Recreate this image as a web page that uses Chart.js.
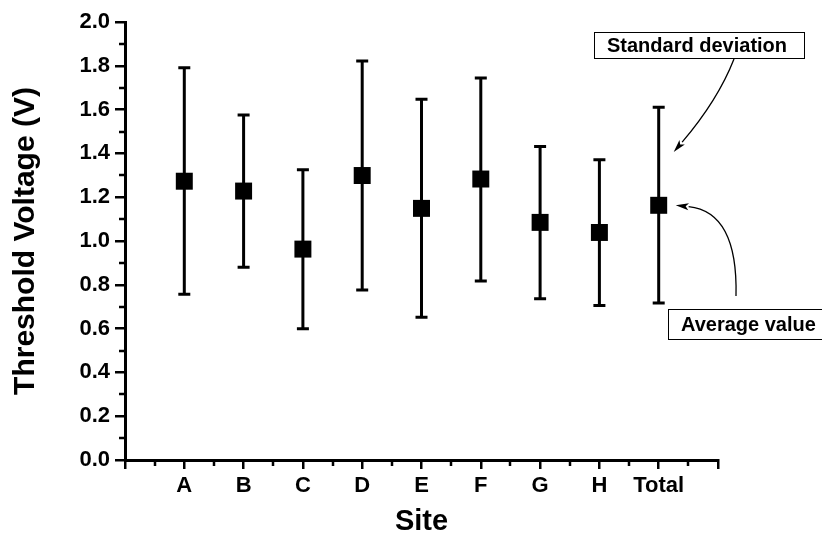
<!DOCTYPE html>
<html lang="en">
  <head>
    <meta charset="UTF-8" />
    <title>Threshold Voltage by Site</title>
    <script src="https://cdn.jsdelivr.net/npm/chart.js"></script>
    <style>
      html, body { margin: 0; padding: 0; background: #fff; }
      #wrap { width: 822px; height: 541px; }
    </style>
  </head>
  <body>
    <div id="wrap"><canvas id="vthChart" width="822" height="541"></canvas></div>

    <script>
      const sites = ["A", "B", "C", "D", "E", "F", "G", "H", "Total"];
      const average = [1.273, 1.228, 0.963, 1.299, 1.149, 1.283, 1.085, 1.039, 1.163];
      const upper = [1.791, 1.575, 1.325, 1.822, 1.647, 1.744, 1.431, 1.371, 1.611];
      const lower = [0.757, 0.880, 0.599, 0.776, 0.652, 0.817, 0.736, 0.705, 0.717];
      const xLabels = [""].concat(sites, [""]);
      const yTicks = [0.0, 0.2, 0.4, 0.6, 0.8, 1.0, 1.2, 1.4, 1.6, 1.8, 2.0];

      const FONT = "'Liberation Sans', Arial, sans-serif";

      // error bars under the squares
      const errorBars = {
        id: "errorBars",
        beforeDatasetsDraw(chart) {
          const ctx = chart.ctx;
          const xs = chart.scales.x, ys = chart.scales.y;
          ctx.save();
          ctx.strokeStyle = "#000";
          ctx.lineWidth = 3;
          sites.forEach((s, i) => {
            const px = xs.getPixelForValue(i + 1);
            const top = ys.getPixelForValue(upper[i]);
            const bot = ys.getPixelForValue(lower[i]);
            ctx.beginPath();
            ctx.moveTo(px, top);
            ctx.lineTo(px, bot);
            ctx.moveTo(px - 6, top);
            ctx.lineTo(px + 6, top);
            ctx.moveTo(px - 6, bot);
            ctx.lineTo(px + 6, bot);
            ctx.stroke();
          });
          ctx.restore();
        },
      };

      // minor ticks + annotations
      const extras = {
        id: "extras",
        afterDraw(chart) {
          const ctx = chart.ctx;
          const xs = chart.scales.x, ys = chart.scales.y;
          const area = chart.chartArea;
          ctx.save();
          ctx.strokeStyle = "#000";
          ctx.lineWidth = 2.5;
          ctx.beginPath();
          for (let v = 0.5; v < 10; v += 1) {
            const px = Math.round(xs.getPixelForValue(v));
            ctx.moveTo(px, area.bottom);
            ctx.lineTo(px, area.bottom + 6);
          }
          for (let v = 0.1; v < 2; v += 0.2) {
            const py = Math.round(ys.getPixelForValue(v));
            ctx.moveTo(area.left, py);
            ctx.lineTo(area.left - 6, py);
          }
          ctx.stroke();

          const tx = xs.getPixelForValue(sites.length);
          const ty = ys.getPixelForValue(average[sites.length - 1]);
          const sdY = ys.getPixelForValue(1.406);

          drawBox(ctx, "Standard deviation", 594, 32, 210, 26);
          drawBox(ctx, "Average value", 668, 309, 160, 30);

          drawArrow(ctx, 734, 59, 718, 100, tx + 15, sdY);
          drawArrow(ctx, 736, 296, 738, 212, tx + 17, ty);
          ctx.restore();
        },
      };

      function drawBox(ctx, text, x, y, w, h) {
        ctx.fillStyle = "#fff";
        ctx.fillRect(x, y, w, h);
        ctx.strokeStyle = "#000";
        ctx.lineWidth = 1;
        ctx.strokeRect(x + 0.5, y + 0.5, w, h);
        ctx.fillStyle = "#000";
        ctx.font = "bold 20px " + FONT;
        ctx.textBaseline = "middle";
        ctx.textAlign = "left";
        ctx.fillText(text, x + 13, y + h / 2 + 1);
      }

      function drawArrow(ctx, x0, y0, cx, cy, x1, y1) {
        const ang = Math.atan2(y1 - cy, x1 - cx);
        const len = 13, half = 3.5;
        const bx = x1 - len * Math.cos(ang), by = y1 - len * Math.sin(ang);
        ctx.strokeStyle = "#000";
        ctx.lineWidth = 1.3;
        ctx.beginPath();
        ctx.moveTo(x0, y0);
        ctx.quadraticCurveTo(cx, cy, bx, by);
        ctx.stroke();
        ctx.fillStyle = "#000";
        ctx.beginPath();
        ctx.moveTo(x1, y1);
        ctx.lineTo(bx - half * Math.sin(ang), by + half * Math.cos(ang));
        ctx.lineTo(bx + 3 * Math.cos(ang), by + 3 * Math.sin(ang));
        ctx.lineTo(bx + half * Math.sin(ang), by - half * Math.cos(ang));
        ctx.closePath();
        ctx.fill();
      }

      const chart = new Chart(document.getElementById("vthChart"), {
        type: "scatter",
        data: {
          datasets: [
            {
              label: "Average value",
              data: sites.map((s, i) => ({ x: i + 1, y: average[i] })),
              pointStyle: "rect",
              pointRadius: 12,
              pointHoverRadius: 12,
              pointBorderWidth: 0,
              backgroundColor: "#000",
              borderColor: "#000",
            },
          ],
        },
        options: {
          responsive: false,
          animation: false,
          events: [],
          layout: { padding: { left: 0, top: 22, right: 104, bottom: 0 } },
          plugins: { legend: { display: false }, tooltip: { enabled: false } },
          scales: {
            x: {
              type: "linear",
              min: 0,
              max: 10,
              afterFit: (s) => { s.height = 81; },
              afterBuildTicks: (s) => { s.ticks = xLabels.map((l, i) => ({ value: i })); },
              border: { display: true, color: "#000", width: 3 },
              grid: { drawOnChartArea: false, color: "#000", lineWidth: 2.5, tickLength: 9 },
              ticks: {
                autoSkip: false,
                maxRotation: 0,
                padding: 4,
                color: "#000",
                font: { family: FONT, size: 22, weight: "bold" },
                callback: (v) => xLabels[v],
              },
              title: {
                display: true,
                text: "Site",
                color: "#000",
                font: { family: FONT, size: 29, weight: "bold" },
                padding: { top: 0, bottom: 2 },
              },
            },
            y: {
              min: 0,
              max: 2,
              afterFit: (s) => { s.width = 125; },
              afterBuildTicks: (s) => { s.ticks = yTicks.map((v) => ({ value: v })); },
              border: { display: true, color: "#000", width: 3 },
              grid: { drawOnChartArea: false, color: "#000", lineWidth: 2.5, tickLength: 10 },
              ticks: {
                padding: 5,
                color: "#000",
                font: { family: FONT, size: 22, weight: "bold" },
                callback: (v) => v.toFixed(1),
              },
              title: {
                display: true,
                text: "Threshold Voltage (V)",
                color: "#000",
                font: { family: FONT, size: 30, weight: "bold" },
                padding: { top: 8, bottom: 0 },
              },
            },
          },
        },
        plugins: [errorBars, extras],
      });
    </script>
  </body>
</html>
